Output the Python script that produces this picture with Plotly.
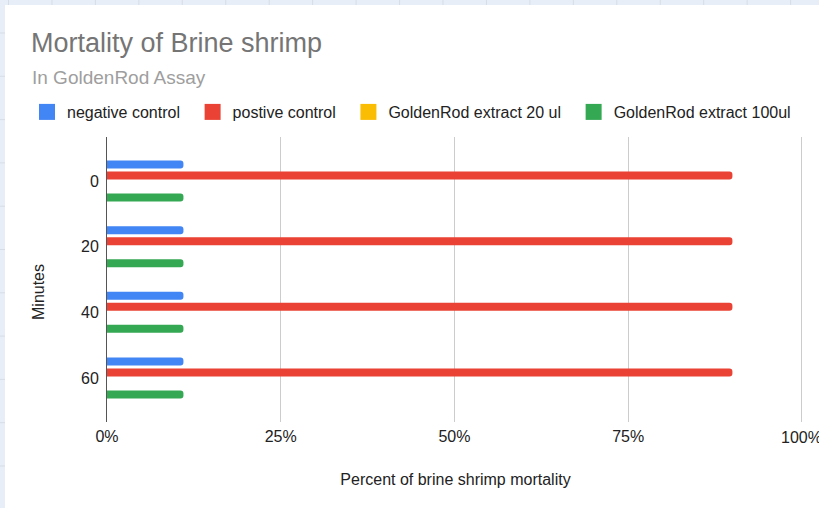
import plotly.graph_objects as go

# ---- data ----
minutes = ["0", "20", "40", "60"]
series_names = ["negative control", "postive control",
                "GoldenRod extract 20 ul", "GoldenRod extract 100ul"]
negative_control = [0.11, 0.11, 0.11, 0.11]
positive_control = [0.90, 0.90, 0.90, 0.90]
extract_20ul = [0.0, 0.0, 0.0, 0.0]
extract_100ul = [0.11, 0.11, 0.11, 0.11]
x_ticks = [0, 0.25, 0.5, 0.75, 1.0]
x_tick_labels = ["0%", "25%", "50%", "75%", "100%"]

colors = ["#4285F4", "#EA4335", "#FBBC04", "#34A853"]
values = [negative_control, positive_control, extract_20ul, extract_100ul]

# ---- geometry ----
W, H = 819, 508
X_MAX = 1.003
ML, MT, MB = 107, 137, 86
PW = round(695 * X_MAX)
MR = W - ML - PW
PH = H - MT - MB
FONT = "Arial, 'Liberation Sans', sans-serif"
TEXT = "#222222"


def px_x(px):
    return (px - ML) / PW


def px_y(py):
    return (H - MB - py) / PH


fig = go.Figure()

for name, vals, col in zip(series_names, values, colors):
    fig.add_trace(go.Bar(
        y=minutes, x=vals, orientation="h", name=name,
        marker=dict(color=col, line=dict(width=0)),
        showlegend=False, hoverinfo="x+name",
    ))

# legend entries with larger square swatches
for name, col in zip(series_names, colors):
    fig.add_trace(go.Scatter(
        x=[None], y=[None], mode="markers", name=name + "\u00a0\u2009",
        marker=dict(symbol="square", size=16, color=col),
        showlegend=True, hoverinfo="skip",
    ))

# spreadsheet backdrop: white card over a light blue sheet
shapes = [dict(type="rect", xref="paper", yref="paper", layer="below",
               x0=px_x(5), x1=px_x(W + 20), y0=px_y(H + 20), y1=px_y(5),
               fillcolor="white", line=dict(width=0))]
col_x = [8.5 + 43.45 * i for i in range(19)]
row_y = [33 + 43.3 * i for i in range(11)]
for cx in col_x:
    shapes.append(dict(type="line", xref="paper", yref="paper", layer="below",
                       x0=px_x(cx), x1=px_x(cx), y0=px_y(0), y1=px_y(5),
                       line=dict(color="#d7dde6", width=1)))
for ry in row_y:
    shapes.append(dict(type="line", xref="paper", yref="paper", layer="below",
                       x0=px_x(0), x1=px_x(5), y0=px_y(ry), y1=px_y(ry),
                       line=dict(color="#d7dde6", width=1)))

# the last tick label runs past the right edge, so it is written separately
axis_ticktext = x_tick_labels[:-1] + [""]

fig.update_layout(
    width=W, height=H,
    margin=dict(l=ML, r=MR, t=MT, b=MB, pad=0, autoexpand=False),
    paper_bgcolor="#e8eef7", plot_bgcolor="white",
    font=dict(family=FONT, size=16, color=TEXT),
    barmode="group", bargap=0.33, bargroupgap=0.27, barcornerradius=3,
    title=dict(text="Mortality of Brine shrimp",
               font=dict(family=FONT, size=27, color="#757575"),
               xref="container", x=31 / W, xanchor="left",
               yref="container", y=1 - 33 / H, yanchor="top"),
    legend=dict(orientation="h", xref="paper", yref="paper",
                x=px_x(27), xanchor="left", y=px_y(112), yanchor="middle",
                font=dict(family=FONT, size=16, color=TEXT),
                bgcolor="rgba(0,0,0,0)", itemclick=False),
    xaxis=dict(range=[0, X_MAX], tickvals=x_ticks, ticktext=axis_ticktext,
               showgrid=True, gridcolor="#cccccc", gridwidth=1,
               zeroline=False, showline=False, ticks="",
               ticklabelstandoff=3,
               tickfont=dict(family=FONT, size=16, color=TEXT),
               title=dict(text="Percent of brine shrimp mortality",
                          font=dict(family=FONT, size=16, color=TEXT),
                          standoff=29)),
    yaxis=dict(type="category", categoryorder="array", categoryarray=minutes,
               range=[3.67, -0.67], showgrid=False, zeroline=False,
               showline=True, linecolor="#555555", linewidth=1, ticks="",
               ticklabelstandoff=4,
               tickfont=dict(family=FONT, size=16, color=TEXT)),
    shapes=shapes,
    annotations=[
        dict(text="In GoldenRod Assay", xref="paper", yref="paper",
             x=px_x(30), y=px_y(77), xanchor="left", yanchor="middle",
             showarrow=False, font=dict(family=FONT, size=19, color="#9e9e9e")),
        dict(text="Minutes", xref="paper", yref="paper",
             x=px_x(38), y=px_y(292), xanchor="center", yanchor="middle",
             textangle=-90, showarrow=False,
             font=dict(family=FONT, size=16, color=TEXT)),
        dict(text=x_tick_labels[-1], xref="x", yref="paper",
             x=x_ticks[-1], y=px_y(437), xanchor="center", yanchor="middle",
             showarrow=False, font=dict(family=FONT, size=16, color=TEXT)),
    ],
)

fig.write_html("out.html")
